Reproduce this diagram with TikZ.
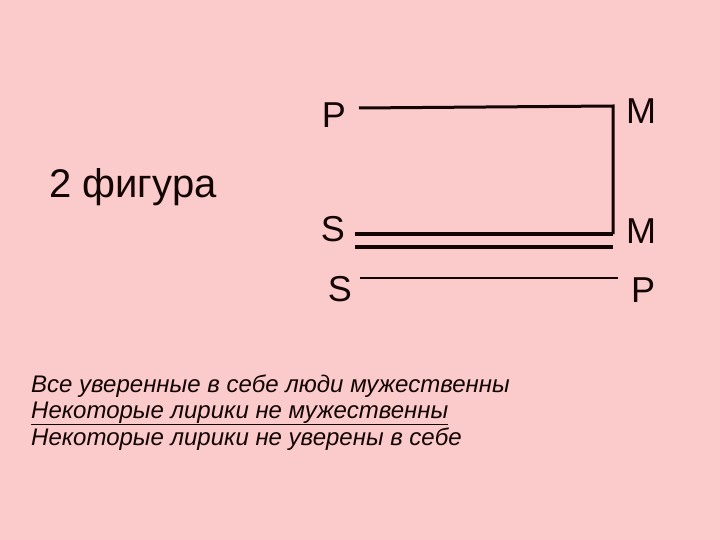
\documentclass[tikz,border=0pt]{standalone}
\usepackage{fontspec}
\setmainfont{Liberation Sans}
\definecolor{bgpink}{RGB}{251,202,202}
\definecolor{ink}{RGB}{20,5,5}
\begin{document}
\begin{tikzpicture}[x=1pt,y=-1pt,
  letter/.style={font=\fontsize{36}{40}\selectfont, text=ink, inner sep=0pt},
  txt/.style={font=\fontsize{24}{28}\selectfont\itshape, text=ink, inner sep=0pt, anchor=base west},
  ln/.style={draw=ink, line width=3pt}]
\fill[bgpink] (0,0) rectangle (720,540);
\useasboundingbox (0,0) rectangle (720,540);
\node[letter] (p1) at (334,115) {P};
\node[letter] (m1) at (641,111) {M};
\node[letter] (s2) at (333,229) {S};
\node[letter] (m2) at (641,231) {M};
\node[letter] (s3) at (340,289) {S};
\node[letter] (p3) at (643,290) {P};
\node[font=\fontsize{40}{44}\selectfont, text=ink, inner sep=0pt, anchor=base west] (fig) at (49,198) {2 фигура};
\coordinate (a1) at (359,108);
\coordinate (a2) at (613,106);
\coordinate (a3) at (613,234);
\draw[ln, line join=miter] (a1) -- (a2) -- (a3);
\coordinate (b1) at (355,234);
\coordinate (b2) at (355,247);
\coordinate (b3) at (613,247);
\draw[draw=ink, line width=4pt] (b1) -- (a3);
\draw[draw=ink, line width=4pt] (b2) -- (b3);
\coordinate (c1) at (360,278);
\coordinate (c2) at (618,278);
\draw[draw=ink, line width=2.5pt] (c1) -- (c2);
\node[txt] (t1) at (31,392) {Все уверенные в себе люди мужественны};
\node[txt] (t2) at (31,418) {\underline{Некоторые лирики не мужественны}};
\node[txt] (t3) at (31,445) {Некоторые лирики не уверены в себе};
\end{tikzpicture}
\end{document}
